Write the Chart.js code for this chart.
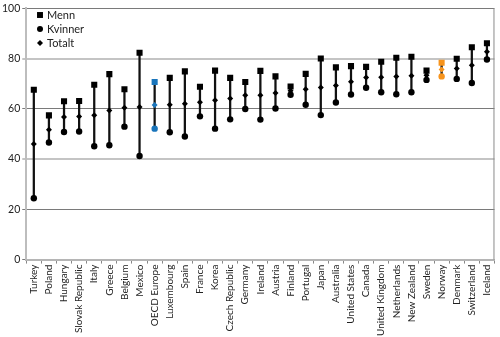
<!DOCTYPE html>
<html>
<head>
<meta charset="utf-8">
<script src="https://cdn.jsdelivr.net/npm/chart.js@4/dist/chart.umd.min.js"></script>
<style>
  html, body { margin: 0; padding: 0; background: #fff; }
  #c { display: block; }
</style>
</head>
<body>
<canvas id="c" width="500" height="337"></canvas>
<script>
const categories = ["Turkey","Poland","Hungary","Slovak Republic","Italy","Greece","Belgium","Mexico","OECD Europe","Luxembourg","Spain","France","Korea","Czech Republic","Germany","Ireland","Austria","Finland","Portugal","Japan","Australia","United States","Canada","United Kingdom","Netherlands","New Zealand","Sweden","Norway","Denmark","Switzerland","Iceland"];
const menn    = [67.6, 57.4, 63.0, 63.1, 69.6, 73.8, 67.8, 82.3, 70.7, 72.3, 74.9, 68.8, 75.2, 72.3, 70.7, 75.1, 72.9, 68.9, 73.9, 80.0, 76.5, 77.0, 76.7, 78.7, 80.3, 80.7, 75.2, 78.3, 79.9, 84.5, 86.1];
const kvinner = [24.4, 46.6, 50.8, 51.0, 45.1, 45.5, 52.9, 41.2, 52.1, 50.7, 49.0, 57.0, 52.1, 55.8, 59.9, 55.7, 60.1, 65.6, 61.6, 57.5, 62.5, 65.7, 68.4, 66.6, 65.8, 66.6, 71.5, 72.9, 71.9, 70.3, 79.6];
const totalt  = [46.0, 51.7, 56.7, 56.9, 57.4, 59.3, 60.4, 60.7, 61.5, 61.6, 62.0, 62.6, 63.4, 64.1, 65.4, 65.4, 66.3, 67.2, 67.8, 68.5, 69.3, 70.8, 72.5, 72.6, 72.9, 73.2, 73.4, 75.6, 76.0, 77.3, 82.7];
const yTicks  = [0, 20, 40, 60, 80, 100];
const seriesNames = ["Menn", "Kvinner", "Totalt"];

const FONT = "Lato, 'Liberation Sans', sans-serif";
const highlight = { "OECD Europe": "#1a75bb", "Norway": "#f7941d" };
const pointColors = categories.map(c => highlight[c] || "#000000");

const ranges = categories.map((c, i) => {
  const vals = [menn[i], kvinner[i], totalt[i]];
  return [Math.min(...vals), Math.max(...vals)];
});

const legendPlugin = {
  id: 'insideLegend',
  afterDraw(chart) {
    const ctx = chart.ctx;
    const styles = ['rect', 'circle', 'rectRot'];
    const radii = [4.2, 3, 3];
    ctx.save();
    ctx.font = "11px " + FONT;
    ctx.fillStyle = '#222';
    ctx.textBaseline = 'middle';
    ctx.textAlign = 'left';
    for (let i = 0; i < 3; i++) {
      const x = 40;
      const y = 15 + 14 * i;
      ctx.save();
      ctx.fillStyle = '#000';
      ctx.strokeStyle = '#000';
      ctx.lineWidth = 0;
      Chart.helpers.drawPoint(ctx, { pointStyle: styles[i], radius: radii[i], rotation: 0, borderWidth: 0 }, x, y);
      ctx.restore();
      ctx.fillText(seriesNames[i], x + 7, y + 0.5);
    }
    ctx.restore();
  }
};

const framePlugin = {
  id: 'frame',
  beforeDatasetsDraw(chart) {
    const ctx = chart.ctx;
    const a = chart.chartArea;
    ctx.save();
    ctx.strokeStyle = '#8a8a8a';
    ctx.lineWidth = 1;
    ctx.beginPath();
    ctx.moveTo(a.right - 0.5, a.top);
    ctx.lineTo(a.right - 0.5, a.bottom);
    ctx.stroke();
    ctx.restore();
  }
};

const pointDataset = (label, data, style, radius, order) => ({
  type: 'line',
  label,
  data,
  showLine: false,
  pointStyle: style,
  pointRadius: radius,
  pointHoverRadius: radius,
  pointBackgroundColor: pointColors,
  pointBorderColor: pointColors,
  pointBorderWidth: 0,
  order
});

new Chart(document.getElementById('c'), {
  type: 'bar',
  data: {
    labels: categories,
    datasets: [
      pointDataset('Totalt', totalt, 'rectRot', 3, 0),
      pointDataset('Kvinner', kvinner, 'circle', 3.2, 1),
      pointDataset('Menn', menn, 'rect', 4.3, 2),
      {
        type: 'bar',
        label: 'range',
        data: ranges,
        backgroundColor: '#111',
        borderWidth: 0,
        barThickness: 1.6,
        order: 10
      }
    ]
  },
  options: {
    responsive: false,
    animation: false,
    devicePixelRatio: 1,
    layout: { padding: { top: 0, right: 1, bottom: 0, left: 0 } },
    plugins: {
      legend: { display: false },
      tooltip: { enabled: false }
    },
    scales: {
      x: {
        offset: true,
        grid: {
          offset: true,
          drawOnChartArea: false,
          drawTicks: true,
          tickLength: 4,
          color: '#888'
        },
        border: { color: '#b5b5b5', width: 2 },
        ticks: {
          autoSkip: false,
          maxRotation: 90,
          minRotation: 90,
          padding: 1,
          color: '#222',
          font: { family: FONT, size: 10 }
        }
      },
      y: {
        min: 0,
        max: 100,
        afterBuildTicks: (axis) => { axis.ticks = yTicks.map(v => ({ value: v })); },
        grid: {
          color: (c) => (c.tick && (c.tick.value === 40 || c.tick.value === 80)) ? '#c4c4c4' : '#7a7a7a',
          lineWidth: (c) => (c.tick && (c.tick.value === 40 || c.tick.value === 80)) ? 2 : 1,
          tickLength: 4
        },
        border: { color: '#bdbdbd', width: 2 },
        ticks: {
          padding: 2,
          color: '#222',
          font: { family: FONT, size: 10.5 }
        }
      }
    }
  },
  plugins: [framePlugin, legendPlugin]
});
</script>
</body>
</html>
